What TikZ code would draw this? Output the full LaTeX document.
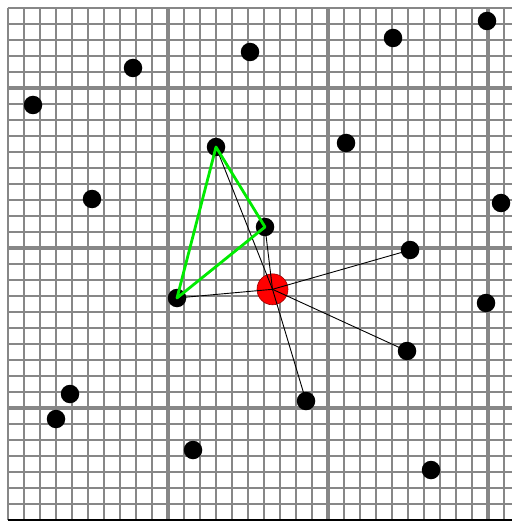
\documentclass[tikz,border=0pt]{standalone}
\usepackage{tikz}
\usetikzlibrary{positioning}
\definecolor{gridgray}{RGB}{135,135,135}
\definecolor{edgegreen}{RGB}{0,235,0}

\begin{document}
\begin{tikzpicture}[x=1pt,y=-1pt,
    dot/.style={circle,fill=black,inner sep=0pt,minimum size=18.5pt},
    query/.style={circle,fill=red,draw=red!60!black,line width=0.6pt,inner sep=0pt,minimum size=31pt},
    link/.style={black,line width=0.9pt},
    tri/.style={edgegreen,line width=2.8pt,line join=round}]
    \useasboundingbox (0,0) rectangle (512,521);

    % Grid
    \foreach \i in {0,1,...,31} {
        \draw[gridgray,line width=2pt] (7.5+16*\i,8) -- (7.5+16*\i,520);
        \draw[gridgray,line width=2pt] (7.5,8.3+16*\i) -- (512,8.3+16*\i);
    }
    \foreach \i in {10,20,30} {
        \draw[gridgray,line width=4pt] (7.5+16*\i,8) -- (7.5+16*\i,520);
        \draw[gridgray,line width=4pt] (7.5,8.3+16*\i-80) -- (512,8.3+16*\i-80);
    }
    \draw[line width=1.5pt] (7.5,519.8) -- (512,519.8);

    % Points
    \foreach \n/\x/\y in {1/487/21, 2/393/38, 3/250/52, 4/133/68, 5/33/105,
        6/216/147, 7/346/143, 8/92/199, 9/501/203, 10/265/227,
        11/410/250, 12/177/298, 13/486/303, 14/407/351, 15/306/401,
        16/70/394, 17/56/419, 18/193/450, 19/431/470} {
        \node[dot] (p\n) at (\x,\y) {};
    }

    % Query point
    \node[query] (q) at (272.5,289.3) {};

    % Neighbours
    \foreach \n in {6,10,11,12,14,15} {
        \draw[link] (q.center) -- (p\n.center);
    }

    % Triangle
    \draw[tri] (p6.center) -- (p10.center) -- (p12.center) -- cycle;

\end{tikzpicture}
\end{document}
